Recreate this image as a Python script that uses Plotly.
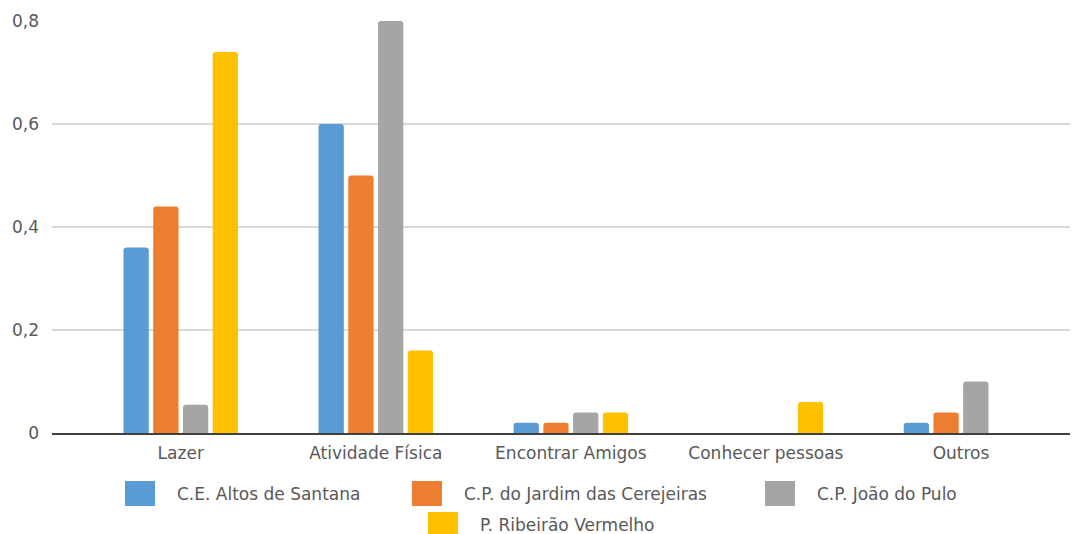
import plotly.graph_objects as go

categorias = ["Lazer", "Atividade Física", "Encontrar Amigos", "Conhecer pessoas", "Outros"]

altos_santana = [0.36, 0.60, 0.02, 0.0, 0.02]
jardim_cerejeiras = [0.44, 0.50, 0.02, 0.0, 0.04]
joao_do_pulo = [0.055, 0.80, 0.04, 0.0, 0.10]
ribeirao_vermelho = [0.74, 0.16, 0.04, 0.06, 0.0]

nomes = [
    "C.E. Altos de Santana",
    "C.P. do Jardim das Cerejeiras",
    "C.P. João do Pulo",
    "P. Ribeirão Vermelho",
]
cores = ["#5B9BD5", "#ED7D31", "#A5A5A5", "#FFC000"]
valores = [altos_santana, jardim_cerejeiras, joao_do_pulo, ribeirao_vermelho]

FONT = "DejaVu Sans"
TEXT = "#595959"

# the page puts the figure 8px in from the corner; the plot runs past the right edge like the original
W, H = 1078, 526
M = dict(l=44, r=0, t=13, b=101)
plot_w = W - M["l"] - M["r"]
plot_h = H - M["t"] - M["b"]

fig = go.Figure()

for nome, cor, vals in zip(nomes, cores, valores):
    fig.add_bar(
        x=categorias,
        y=vals,
        name=nome,
        marker_color=cor,
        marker_line_width=0,
        showlegend=False,
    )


# legend drawn by hand so the swatches can be as large as in the original
def px_to_paper(px, py):
    # px, py measured from the plot area's bottom-left corner
    return px / plot_w, py / plot_h


# (swatch left, row) for each entry, offsets in pixels from the plot's left edge
legend_pos = [(73, 0), (360, 0), (713, 0), (376, 1)]
row_y = [-61, -92]

for nome, cor, (sx, row) in zip(nomes, cores, legend_pos):
    x0, y0 = px_to_paper(sx, row_y[row] - 12)
    x1, y1 = px_to_paper(sx + 30, row_y[row] + 13)
    fig.add_shape(
        type="rect",
        xref="paper",
        yref="paper",
        x0=x0,
        x1=x1,
        y0=y0,
        y1=y1,
        fillcolor=cor,
        line_width=0,
    )
    tx, ty = px_to_paper(sx + 50, row_y[row])
    fig.add_annotation(
        text=nome,
        xref="paper",
        yref="paper",
        x=tx,
        y=ty,
        xanchor="left",
        yanchor="middle",
        showarrow=False,
        font=dict(family=FONT, size=17, color=TEXT),
    )

fig.update_layout(
    width=W,
    height=H,
    margin=dict(M, autoexpand=False),
    plot_bgcolor="white",
    paper_bgcolor="white",
    font=dict(family=FONT, size=17, color=TEXT),
    barmode="group",
    bargap=0.39,
    bargroupgap=0.15,
    barcornerradius=3,
)

fig.update_xaxes(
    range=[-0.66, 4.641],
    showline=True,
    linecolor="#404040",
    linewidth=2,
    showgrid=False,
    ticks="",
    tickangle=0,
    ticklabelstandoff=4,
    tickfont=dict(family=FONT, size=17, color=TEXT),
)

fig.update_yaxes(
    range=[0, 0.8],
    tickvals=[0, 0.2, 0.4, 0.6, 0.8],
    ticktext=["0", "0,2", "0,4", "0,6", "0,8"],
    showgrid=True,
    gridcolor="#D9D9D9",
    gridwidth=1.5,
    zeroline=False,
    ticklabelstandoff=12,
    tickfont=dict(family=FONT, size=17, color=TEXT),
)

fig.write_html("out.html")
